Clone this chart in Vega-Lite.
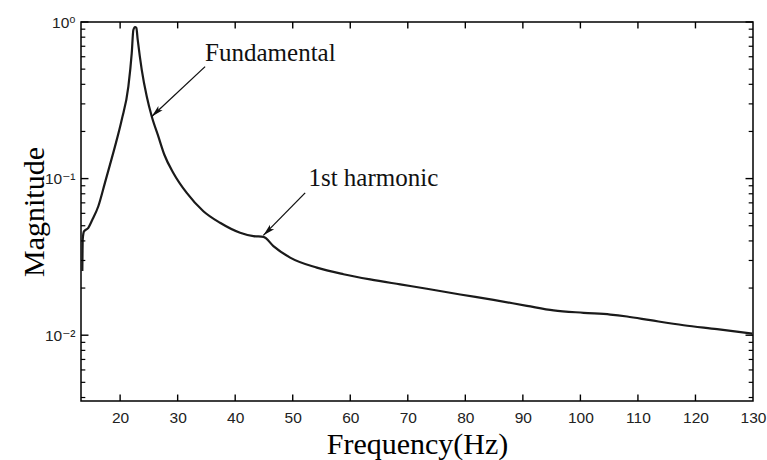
{
  "$schema": "https://vega.github.io/schema/vega-lite/v6.json",
  "width": 672,
  "height": 379,
  "autosize": "none",
  "padding": {"left": 81, "top": 22, "right": 14, "bottom": 59},
  "background": "white",
  "config": {
    "view": {"stroke": "#000", "strokeWidth": 1.5},
    "axis": {
      "grid": false,
      "domain": false,
      "ticks": false,
      "tickSize": 0,
      "labelFont": "Liberation Sans, DejaVu Sans",
      "labelFontSize": 15.5,
      "labelColor": "#222",
      "titleFont": "Liberation Serif",
      "titleFontSize": 30,
      "titleFontWeight": "normal",
      "titleColor": "#000"
    }
  },
  "datasets": {
    "curve": [
      {"f": 13.43, "m": 0.0257},
      {"f": 13.46, "m": 0.0328},
      {"f": 13.5, "m": 0.0409},
      {"f": 13.72, "m": 0.046},
      {"f": 14.47, "m": 0.0485},
      {"f": 15.11, "m": 0.054},
      {"f": 16.21, "m": 0.0666},
      {"f": 17.37, "m": 0.0943},
      {"f": 18.24, "m": 0.1228},
      {"f": 19.11, "m": 0.1606},
      {"f": 20.28, "m": 0.2377},
      {"f": 21.43, "m": 0.387},
      {"f": 22.02, "m": 0.632},
      {"f": 22.3, "m": 0.889},
      {"f": 22.59, "m": 0.929},
      {"f": 22.82, "m": 0.916},
      {"f": 23.06, "m": 0.768},
      {"f": 23.76, "m": 0.495},
      {"f": 24.63, "m": 0.334},
      {"f": 25.5, "m": 0.249},
      {"f": 26.64, "m": 0.186},
      {"f": 27.69, "m": 0.142},
      {"f": 29.25, "m": 0.1087},
      {"f": 31.58, "m": 0.081},
      {"f": 34.47, "m": 0.0619},
      {"f": 37.37, "m": 0.0522},
      {"f": 40.85, "m": 0.0451},
      {"f": 43.17, "m": 0.0429},
      {"f": 44.9, "m": 0.0425},
      {"f": 46.64, "m": 0.0371},
      {"f": 49.55, "m": 0.0313},
      {"f": 54.19, "m": 0.027},
      {"f": 58.82, "m": 0.0245},
      {"f": 63.46, "m": 0.0227},
      {"f": 68.68, "m": 0.0211},
      {"f": 73.32, "m": 0.0198},
      {"f": 79.11, "m": 0.0182},
      {"f": 84.9, "m": 0.0168},
      {"f": 90.71, "m": 0.0154},
      {"f": 95.34, "m": 0.0144},
      {"f": 100.56, "m": 0.0139},
      {"f": 105.2, "m": 0.01355},
      {"f": 108.1, "m": 0.01316},
      {"f": 112.16, "m": 0.01247},
      {"f": 117.95, "m": 0.01158},
      {"f": 123.76, "m": 0.01092},
      {"f": 129.9, "m": 0.01022}
    ],
    "arrows": [
      {"fx": 34.77, "mx": 0.519, "fh": 25.5, "mh": 0.249},
      {"fx": 52.16, "mx": 0.0811, "fh": 44.9, "mh": 0.0434}
    ],
    "notes": [
      {"f": 34.77, "m": 0.565, "label": "Fundamental"},
      {"f": 52.73, "m": 0.0902, "label": "1st harmonic"}
    ],
    "xticks": [
      {"f": 20}, {"f": 30}, {"f": 40}, {"f": 50}, {"f": 60}, {"f": 70},
      {"f": 80}, {"f": 90}, {"f": 100}, {"f": 110}, {"f": 120}
    ],
    "ymajor": [{"m": 0.01}, {"m": 0.1}, {"m": 1}],
    "yminor": [
      {"m": 0.004}, {"m": 0.005}, {"m": 0.006}, {"m": 0.007}, {"m": 0.008}, {"m": 0.009},
      {"m": 0.02}, {"m": 0.03}, {"m": 0.04}, {"m": 0.05}, {"m": 0.06}, {"m": 0.07}, {"m": 0.08}, {"m": 0.09},
      {"m": 0.2}, {"m": 0.3}, {"m": 0.4}, {"m": 0.5}, {"m": 0.6}, {"m": 0.7}, {"m": 0.8}, {"m": 0.9}
    ]
  },
  "layer": [
    {
      "data": {"name": "curve"},
      "mark": {"type": "line", "color": "#1a1a1a", "strokeWidth": 2.2, "clip": true, "interpolate": "monotone"},
      "encoding": {
        "x": {
          "field": "f", "type": "quantitative",
          "scale": {"domain": [13.2, 130], "nice": false, "zero": false},
          "axis": {
            "orient": "bottom",
            "values": [20, 30, 40, 50, 60, 70, 80, 90, 100, 110, 120, 130],
            "labelPadding": 9,
            "labelFlush": false,
            "title": "Frequency(Hz)",
            "titleY": 52,
            "titleBaseline": "alphabetic"
          }
        },
        "y": {
          "field": "m", "type": "quantitative",
          "scale": {"type": "log", "domain": [0.0038, 1], "nice": false, "zero": false},
          "axis": {
            "orient": "left",
            "values": [0.01, 0.1, 1],
            "labelPadding": 6,
            "labelFlush": false,
            "labelExpr": "datum.value >= 0.99 ? '10⁰' : (datum.value >= 0.099 ? '10⁻¹' : '10⁻²')",
            "title": "Magnitude",
            "titleX": -38,
            "titleBaseline": "alphabetic"
          }
        }
      }
    },
    {
      "data": {"name": "xticks"},
      "mark": {"type": "rule", "color": "#000", "strokeWidth": 1.4},
      "encoding": {
        "x": {"field": "f", "type": "quantitative"},
        "y": {"datum": 0.0038, "type": "quantitative"},
        "y2": {"datum": 0.00418}
      }
    },
    {
      "data": {"name": "xticks"},
      "mark": {"type": "rule", "color": "#000", "strokeWidth": 1.4},
      "encoding": {
        "x": {"field": "f", "type": "quantitative"},
        "y": {"datum": 1, "type": "quantitative"},
        "y2": {"datum": 0.91}
      }
    },
    {
      "data": {"name": "ymajor"},
      "mark": {"type": "rule", "color": "#000", "strokeWidth": 1.4},
      "encoding": {
        "y": {"field": "m", "type": "quantitative"},
        "x": {"datum": 13.2, "type": "quantitative"},
        "x2": {"datum": 14.5}
      }
    },
    {
      "data": {"name": "ymajor"},
      "mark": {"type": "rule", "color": "#000", "strokeWidth": 1.4},
      "encoding": {
        "y": {"field": "m", "type": "quantitative"},
        "x": {"datum": 130, "type": "quantitative"},
        "x2": {"datum": 128.7}
      }
    },
    {
      "data": {"name": "yminor"},
      "mark": {"type": "rule", "color": "#000", "strokeWidth": 1.2},
      "encoding": {
        "y": {"field": "m", "type": "quantitative"},
        "x": {"datum": 13.2, "type": "quantitative"},
        "x2": {"datum": 13.95}
      }
    },
    {
      "data": {"name": "yminor"},
      "mark": {"type": "rule", "color": "#000", "strokeWidth": 1.2},
      "encoding": {
        "y": {"field": "m", "type": "quantitative"},
        "x": {"datum": 130, "type": "quantitative"},
        "x2": {"datum": 129.25}
      }
    },
    {
      "data": {"name": "arrows"},
      "mark": {"type": "rule", "color": "#111", "strokeWidth": 1.3},
      "encoding": {
        "x": {"field": "fx", "type": "quantitative"},
        "y": {"field": "mx", "type": "quantitative"},
        "x2": {"field": "fh"},
        "y2": {"field": "mh"}
      }
    },
    {
      "data": {"name": "arrows"},
      "mark": {
        "type": "point",
        "shape": "M0,0L0.38,1.5L0,1.15L-0.38,1.5Z",
        "filled": true,
        "color": "#111",
        "opacity": 1,
        "size": 260,
        "angle": 226
      },
      "encoding": {
        "x": {"field": "fh", "type": "quantitative"},
        "y": {"field": "mh", "type": "quantitative"}
      }
    },
    {
      "data": {"name": "notes"},
      "mark": {
        "type": "text",
        "align": "left",
        "baseline": "alphabetic",
        "font": "Liberation Serif",
        "fontSize": 25,
        "color": "#111"
      },
      "encoding": {
        "x": {"field": "f", "type": "quantitative"},
        "y": {"field": "m", "type": "quantitative"},
        "text": {"field": "label"}
      }
    }
  ]
}
